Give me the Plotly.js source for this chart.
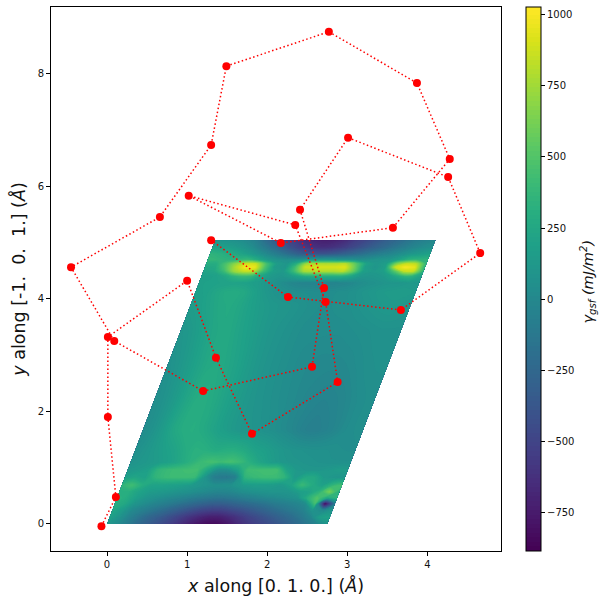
<!DOCTYPE html>
<html><head><meta charset="utf-8">
<script src="https://cdn.plot.ly/plotly-3.0.1.min.js"></script>
<style>html,body{margin:0;padding:0;background:#fff}</style></head>
<body><div id="g" style="width:608px;height:605px"></div>
<script>
// Path of the atoms
const pathX=[-0.07,0.11,0.01,0.01,1.00,1.36,1.81,2.88,2.73,2.35,1.02,2.17,3.57,4.28,3.87,2.77,1.49,1.30,0.66,-0.45,0.09,1.20,2.56,2.71,2.41,3.01,4.26,4.66,3.67,2.26,1.30];
const pathY=[-0.04,0.48,1.90,3.32,4.32,2.95,1.60,2.52,3.94,5.31,5.83,4.99,5.26,6.48,7.83,8.74,8.13,6.73,5.45,4.56,3.25,2.36,2.79,4.19,5.58,6.86,6.16,4.81,3.80,4.03,5.04];
// Lattice coordinate along [0 1 0] (Å)
const latticeA=[0,0.125,0.25,0.375,0.5,0.625,0.75,0.875,1,1.125,1.25,1.375,1.5,1.625,1.75,1.875,2,2.125,2.25,2.375,2.5,2.625,2.75];
// Height along [-1 0 1] (Å)
const latticeB=[0,0.12,0.25,0.36,0.46,0.57,0.69,0.83,0.96,1.10,1.31,1.67,2.20,2.82,3.45,3.89,4.12,4.28,4.40,4.49,4.56,4.62,4.69,4.80,4.92,5.04];
const skew=0.268;
// Energy values, one row per latticeB entry
const gsf=[
[120,30,-90,-220,-320,-410,-500,-600,-700,-780,-830,-830,-770,-670,-580,-510,-450,-380,-300,-220,-130,-20,100],
[200,80,-50,-160,-260,-340,-430,-520,-610,-680,-730,-720,-660,-580,-500,-430,-360,-290,-220,-140,-30,180,200],
[250,150,10,-60,-130,-200,-280,-350,-420,-480,-510,-500,-450,-400,-340,-280,-220,-160,-110,-50,100,0,100],
[300,250,100,30,-30,-80,-130,-190,-240,-290,-320,-310,-270,-230,-190,-150,-100,-70,-30,20,450,-850,-100],
[350,280,170,90,50,10,-20,-60,-100,-130,-150,-140,-110,-70,-40,-10,10,40,70,300,500,250,350],
[300,300,210,150,130,110,80,60,30,0,-20,-10,30,60,80,90,90,100,170,210,350,620,300],
[350,430,300,210,210,190,170,130,90,60,60,70,130,160,160,150,130,220,400,280,190,350,450],
[180,230,200,350,400,420,420,400,100,-90,-120,-70,350,400,420,420,350,130,250,250,130,100,100],
[120,140,180,350,400,420,430,430,250,60,60,200,420,430,440,430,200,120,100,100,120,150,150],
[80,110,130,160,200,260,330,400,450,420,450,400,300,220,160,120,100,90,80,70,60,60,60],
[60,100,140,180,220,280,320,310,280,300,300,260,200,170,130,100,80,70,60,60,50,40,40],
[30,80,150,240,290,300,270,220,170,130,100,90,70,50,20,-10,-50,-70,-50,-20,20,40,50],
[40,80,140,220,280,290,260,210,160,120,90,70,50,30,10,-10,-30,-40,-30,-10,20,40,50],
[60,100,150,210,260,270,240,200,150,110,80,60,40,20,10,0,0,0,10,30,50,60,60],
[100,130,180,230,260,250,210,170,130,100,80,60,40,30,30,30,30,40,50,60,70,70,70],
[150,180,220,260,270,240,190,150,120,100,90,70,50,40,40,50,60,80,100,120,130,120,100],
[170,190,230,270,280,250,180,120,80,60,40,40,30,30,40,50,70,100,120,140,150,150,130],
[180,190,200,200,200,180,150,100,50,0,-30,-40,-40,-40,-30,-10,30,60,80,100,100,120,120],
[180,180,220,320,400,380,220,130,100,160,250,300,300,300,300,220,110,100,120,200,320,340,200],
[220,230,400,720,860,820,420,170,130,400,760,800,800,800,820,560,180,130,170,480,850,850,330],
[250,260,480,780,990,960,480,140,100,420,860,900,900,900,920,580,170,100,170,850,1000,940,320],
[300,290,480,720,880,860,460,160,100,300,740,790,790,800,800,520,200,110,170,640,860,820,360],
[380,360,340,360,400,280,140,80,60,60,120,130,130,100,90,60,70,100,110,200,340,360,360],
[350,320,280,220,150,60,-30,-120,-220,-320,-380,-400,-380,-330,-270,-200,-130,-70,-20,40,100,150,200],
[200,180,150,100,30,-80,-200,-320,-450,-550,-620,-650,-620,-560,-480,-400,-320,-250,-170,-100,-30,20,50],
[100,80,60,20,-50,-200,-350,-450,-550,-650,-700,-720,-700,-650,-550,-480,-400,-320,-250,-180,-100,-50,0]
];
const cbTicks=[-750,-500,-250,0,250,500,750,1000];
const xTicks=[0,1,2,3,4];
const yTicks=[0,2,4,6,8];
const carpetX=latticeB.map(b=>latticeA.map(a=>a+b*skew));
const carpetY=latticeB.map(b=>latticeA.map(()=>b));
const hiddenAxis={showgrid:false,showticklabels:'none',startline:false,endline:false,minorgridcount:0,smoothing:0,showline:false,ticks:''};
const font='"DejaVu Sans", sans-serif';
const axisCommon={showgrid:false,zeroline:false,showline:true,mirror:true,linecolor:'#000',linewidth:1,ticks:'outside',ticklen:4,tickwidth:1,tickcolor:'#000',tickfont:{family:font,size:10,color:'#111'}};
Plotly.newPlot('g',[
 {type:'carpet',carpet:'c',a:latticeA,b:latticeB,x:carpetX,y:carpetY,aaxis:hiddenAxis,baxis:hiddenAxis},
 {type:'contourcarpet',carpet:'c',a:latticeA,b:latticeB,z:gsf,colorscale:'Viridis',zmin:-887,zmax:1028,autocontour:false,
  contours:{coloring:'fill',showlines:false,start:-887,end:1028,size:16},line:{width:0},
  colorbar:{x:1.0556,xanchor:'left',xpad:0,y:0.5,yanchor:'middle',ypad:0,len:1,thickness:15,outlinewidth:1,outlinecolor:'#000',
   ticks:'outside',ticklen:4,tickwidth:1,tickcolor:'#000',tickvals:cbTicks,tickfont:{family:font,size:10,color:'#111'}}},
 {type:'scatter',mode:'lines+markers',x:pathX,y:pathY,line:{color:'red',width:1.5,dash:'1.5px,2.5px'},marker:{color:'red',size:8},showlegend:false,cliponaxis:false}
],{
 width:608,height:605,margin:{l:51,r:107,t:7,b:54},paper_bgcolor:'#fff',plot_bgcolor:'#fff',showlegend:false,
 xaxis:Object.assign({},axisCommon,{range:[-0.70,4.92],tickvals:xTicks,title:{text:'<i>x</i> along [0. 1. 0.] (<i>Å</i>)',standoff:10,font:{family:font,size:17.5,color:'#111'}}}),
 yaxis:Object.assign({},axisCommon,{range:[-0.48,9.18],tickvals:yTicks,title:{text:'<i>y</i> along [-1.\u00a0 0.\u00a0 1.] (<i>Å</i>)',standoff:7,font:{family:font,size:17.5,color:'#111'}}}),
 annotations:[{text:'<i>γ<sub>gsf</sub> (mJ/m<sup>2</sup>)</i>',xref:'paper',yref:'paper',x:1.193,y:0.495,xanchor:'center',yanchor:'middle',textangle:-90,showarrow:false,font:{family:font,size:14.5,color:'#111'}}]
},{displayModeBar:false,staticPlot:true});
</script></body></html>
